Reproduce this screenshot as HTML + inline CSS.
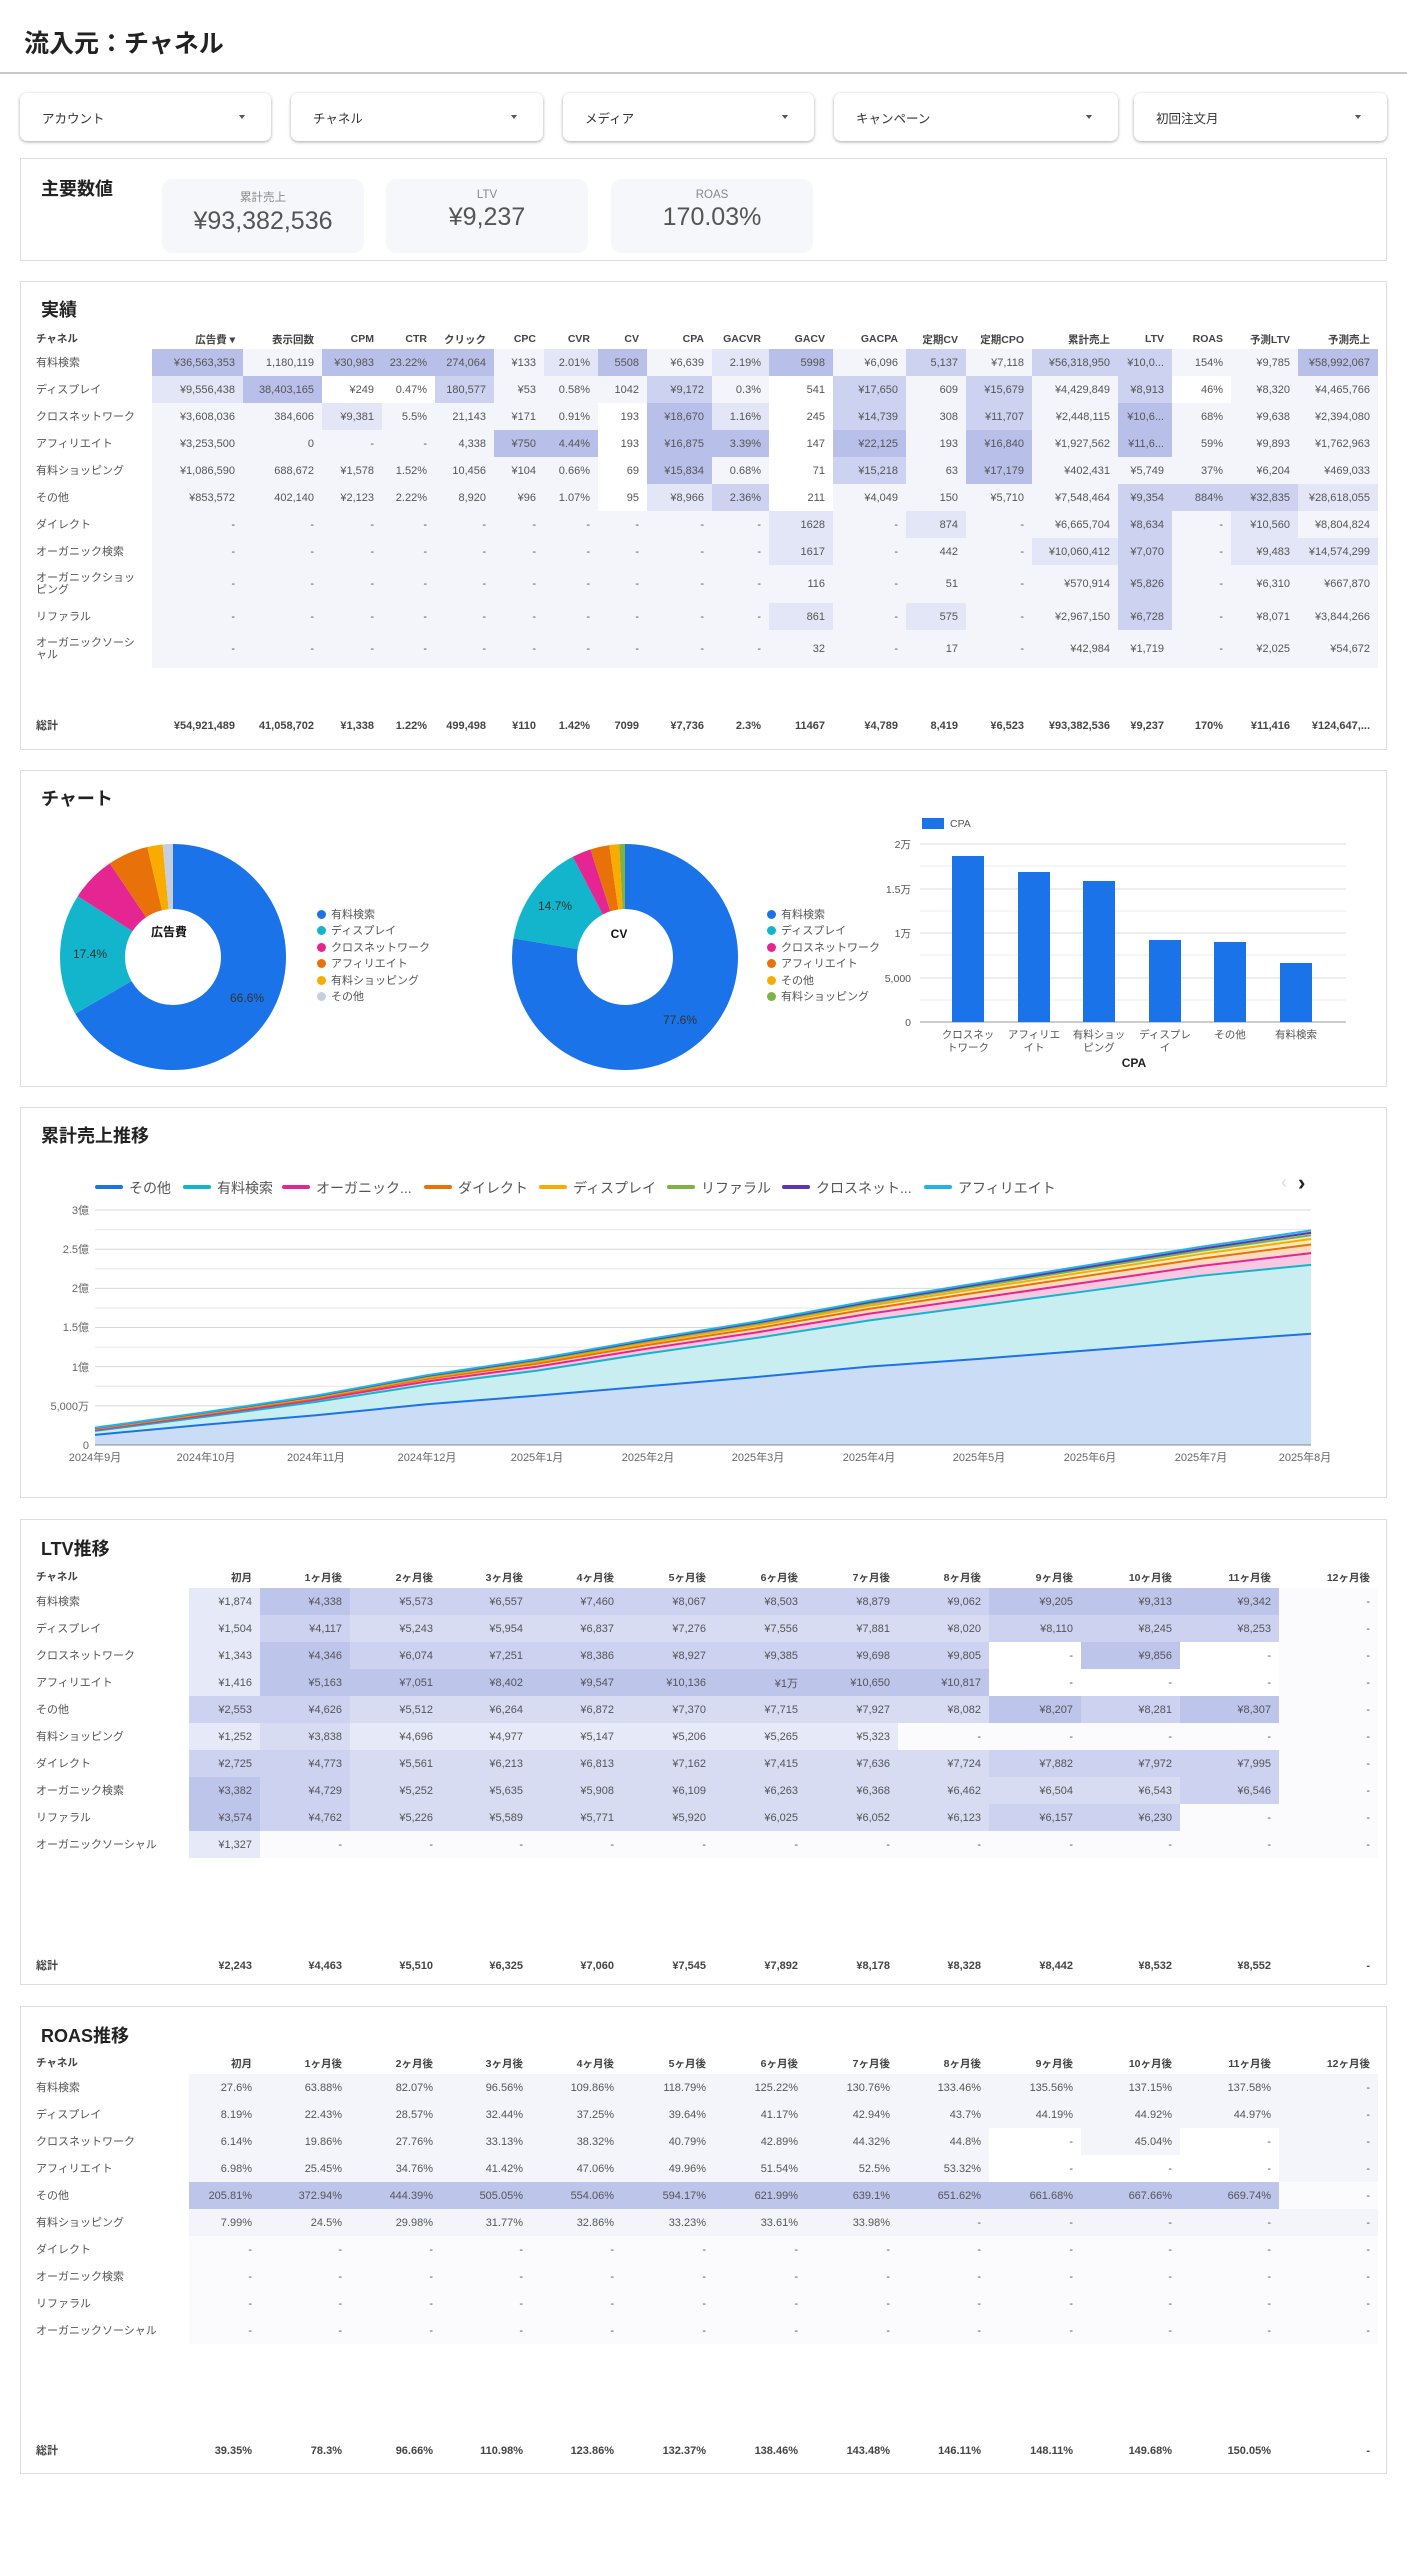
<!DOCTYPE html>
<html><head><meta charset="utf-8">
<style>
*{box-sizing:border-box;margin:0;padding:0}
body{width:1407px;height:2560px;background:#fff;position:relative;font-family:"Liberation Sans","Noto Sans CJK JP",sans-serif;color:#444;overflow:hidden}
.abs{position:absolute}
.title{left:24px;top:24px;font-size:25px;font-weight:bold;color:#222}
.hline{left:0;top:72px;width:1407px;height:2px;background:#c8c8c8}
.filt{position:absolute;top:93px;height:48px;background:#fff;border-radius:7px;box-shadow:0 1px 3px rgba(0,0,0,.35);font-size:12.5px;color:#333;padding:15px 0 0 22px}
.filt:after{content:"";position:absolute;right:26px;top:22px;border-left:3px solid transparent;border-right:3px solid transparent;border-top:4px solid #555}
.panel{position:absolute;left:20px;width:1367px;border:1px solid #ddd;background:#fff}
.h{position:absolute;font-size:18px;font-weight:bold;color:#222}
.card{position:absolute;top:179px;height:74px;background:#f6f7fb;border-radius:10px;text-align:center;color:#666}
.card .l{font-size:11.5px;color:#888;margin-top:10px}
.card .v{font-size:25px;color:#555;margin-top:2px}
table{position:absolute;border-collapse:collapse;table-layout:fixed;font-size:11px;color:#555}
td,th{text-align:right;padding:0 8px 0 0;white-space:nowrap;overflow:hidden}
th{font-weight:bold;color:#444;font-size:10.5px}
td.n,th.n{text-align:left;padding-left:4px;color:#555;white-space:normal;line-height:12px}
th.n{color:#444}
tr.tot td{font-weight:bold;color:#444}
.a0{background:#fff}.a1{background:#f4f5fb}.a2{background:#e3e6f6}.a3{background:#ccd2f0}.a4{background:#b8c0e9}
.b1{background:#e6e9f7}.b2{background:#d8dcf3}.b3{background:#ccd2f0}.b4{background:#bec5eb}.bw{background:#fbfbfe}
.leg{position:absolute;font-size:11px;color:#555}
.leg i{display:inline-block;width:9px;height:9px;border-radius:50%;margin-right:5px;vertical-align:-1px}
.ll{position:absolute;top:1178px;font-size:14px;color:#555;white-space:nowrap}
.ll b{display:inline-block;width:28px;height:4px;border-radius:2px;vertical-align:4px;margin-right:6px}
</style></head><body>
<div class="abs title">流入元：チャネル</div>
<div class="abs hline"></div>
<div class="filt" style="left:20px;width:251px">アカウント</div>
<div class="filt" style="left:291px;width:252px">チャネル</div>
<div class="filt" style="left:563px;width:251px">メディア</div>
<div class="filt" style="left:834px;width:284px">キャンペーン</div>
<div class="filt" style="left:1134px;width:253px">初回注文月</div>

<div class="panel" style="top:158px;height:103px"></div>
<div class="h" style="left:41px;top:175px">主要数値</div>
<div class="card" style="left:162px;width:202px"><div class="l">累計売上</div><div class="v">¥93,382,536</div></div>
<div class="card" style="left:386px;width:202px"><div class="l">LTV</div><div class="v">¥9,237</div></div>
<div class="card" style="left:611px;width:202px"><div class="l">ROAS</div><div class="v">170.03%</div></div>

<div class="panel" style="top:281px;height:469px"></div>
<div class="h" style="left:41px;top:296px">実績</div>
<table style="left:32px;top:329px;width:1346px">
<colgroup><col style="width:120px"><col style="width:91px"><col style="width:79px"><col style="width:60px"><col style="width:53px"><col style="width:59px"><col style="width:50px"><col style="width:54px"><col style="width:49px"><col style="width:65px"><col style="width:57px"><col style="width:64px"><col style="width:73px"><col style="width:60px"><col style="width:66px"><col style="width:86px"><col style="width:54px"><col style="width:59px"><col style="width:67px"><col style="width:80px"></colgroup>
<tr style="height:20px"><th class="n">チャネル</th><th>広告費 ▾</th><th>表示回数</th><th>CPM</th><th>CTR</th><th>クリック</th><th>CPC</th><th>CVR</th><th>CV</th><th>CPA</th><th>GACVR</th><th>GACV</th><th>GACPA</th><th>定期CV</th><th>定期CPO</th><th>累計売上</th><th>LTV</th><th>ROAS</th><th>予測LTV</th><th>予測売上</th></tr>
<tr style="height:27px"><td class="n">有料検索</td><td class="a4">¥36,563,353</td><td class="a1">1,180,119</td><td class="a4">¥30,983</td><td class="a4">23.22%</td><td class="a4">274,064</td><td class="a1">¥133</td><td class="a2">2.01%</td><td class="a4">5508</td><td class="a1">¥6,639</td><td class="a2">2.19%</td><td class="a4">5998</td><td class="a1">¥6,096</td><td class="a3">5,137</td><td class="a1">¥7,118</td><td class="a3">¥56,318,950</td><td class="a3">¥10,0...</td><td class="a1">154%</td><td class="a1">¥9,785</td><td class="a4">¥58,992,067</td></tr>
<tr style="height:27px"><td class="n">ディスプレイ</td><td class="a2">¥9,556,438</td><td class="a4">38,403,165</td><td class="a0">¥249</td><td class="a0">0.47%</td><td class="a3">180,577</td><td class="a1">¥53</td><td class="a1">0.58%</td><td class="a1">1042</td><td class="a3">¥9,172</td><td class="a1">0.3%</td><td class="a0">541</td><td class="a3">¥17,650</td><td class="a1">609</td><td class="a3">¥15,679</td><td class="a1">¥4,429,849</td><td class="a3">¥8,913</td><td class="a0">46%</td><td class="a1">¥8,320</td><td class="a1">¥4,465,766</td></tr>
<tr style="height:27px"><td class="n">クロスネットワーク</td><td class="a1">¥3,608,036</td><td class="a1">384,606</td><td class="a2">¥9,381</td><td class="a1">5.5%</td><td class="a1">21,143</td><td class="a1">¥171</td><td class="a1">0.91%</td><td class="a0">193</td><td class="a4">¥18,670</td><td class="a2">1.16%</td><td class="a0">245</td><td class="a3">¥14,739</td><td class="a1">308</td><td class="a3">¥11,707</td><td class="a1">¥2,448,115</td><td class="a4">¥10,6...</td><td class="a1">68%</td><td class="a1">¥9,638</td><td class="a1">¥2,394,080</td></tr>
<tr style="height:27px"><td class="n">アフィリエイト</td><td class="a1">¥3,253,500</td><td class="a1">0</td><td class="a1">-</td><td class="a1">-</td><td class="a1">4,338</td><td class="a4">¥750</td><td class="a4">4.44%</td><td class="a0">193</td><td class="a4">¥16,875</td><td class="a4">3.39%</td><td class="a0">147</td><td class="a4">¥22,125</td><td class="a1">193</td><td class="a4">¥16,840</td><td class="a1">¥1,927,562</td><td class="a4">¥11,6...</td><td class="a1">59%</td><td class="a1">¥9,893</td><td class="a1">¥1,762,963</td></tr>
<tr style="height:27px"><td class="n">有料ショッピング</td><td class="a1">¥1,086,590</td><td class="a1">688,672</td><td class="a1">¥1,578</td><td class="a1">1.52%</td><td class="a1">10,456</td><td class="a1">¥104</td><td class="a1">0.66%</td><td class="a0">69</td><td class="a4">¥15,834</td><td class="a1">0.68%</td><td class="a0">71</td><td class="a3">¥15,218</td><td class="a1">63</td><td class="a4">¥17,179</td><td class="a1">¥402,431</td><td class="a1">¥5,749</td><td class="a1">37%</td><td class="a1">¥6,204</td><td class="a1">¥469,033</td></tr>
<tr style="height:27px"><td class="n">その他</td><td class="a1">¥853,572</td><td class="a1">402,140</td><td class="a1">¥2,123</td><td class="a1">2.22%</td><td class="a1">8,920</td><td class="a1">¥96</td><td class="a1">1.07%</td><td class="a0">95</td><td class="a2">¥8,966</td><td class="a3">2.36%</td><td class="a0">211</td><td class="a1">¥4,049</td><td class="a1">150</td><td class="a1">¥5,710</td><td class="a1">¥7,548,464</td><td class="a3">¥9,354</td><td class="a3">884%</td><td class="a3">¥32,835</td><td class="a2">¥28,618,055</td></tr>
<tr style="height:27px"><td class="n">ダイレクト</td><td class="a1">-</td><td class="a1">-</td><td class="a1">-</td><td class="a1">-</td><td class="a1">-</td><td class="a1">-</td><td class="a1">-</td><td class="a1">-</td><td class="a1">-</td><td class="a1">-</td><td class="a2">1628</td><td class="a1">-</td><td class="a2">874</td><td class="a1">-</td><td class="a1">¥6,665,704</td><td class="a3">¥8,634</td><td class="a1">-</td><td class="a2">¥10,560</td><td class="a1">¥8,804,824</td></tr>
<tr style="height:27px"><td class="n">オーガニック検索</td><td class="a1">-</td><td class="a1">-</td><td class="a1">-</td><td class="a1">-</td><td class="a1">-</td><td class="a1">-</td><td class="a1">-</td><td class="a1">-</td><td class="a1">-</td><td class="a1">-</td><td class="a2">1617</td><td class="a1">-</td><td class="a1">442</td><td class="a1">-</td><td class="a2">¥10,060,412</td><td class="a3">¥7,070</td><td class="a1">-</td><td class="a2">¥9,483</td><td class="a2">¥14,574,299</td></tr>
<tr style="height:38px"><td class="n">オーガニックショッピング</td><td class="a1">-</td><td class="a1">-</td><td class="a1">-</td><td class="a1">-</td><td class="a1">-</td><td class="a1">-</td><td class="a1">-</td><td class="a1">-</td><td class="a1">-</td><td class="a1">-</td><td class="a1">116</td><td class="a1">-</td><td class="a1">51</td><td class="a1">-</td><td class="a1">¥570,914</td><td class="a3">¥5,826</td><td class="a1">-</td><td class="a1">¥6,310</td><td class="a1">¥667,870</td></tr>
<tr style="height:27px"><td class="n">リファラル</td><td class="a1">-</td><td class="a1">-</td><td class="a1">-</td><td class="a1">-</td><td class="a1">-</td><td class="a1">-</td><td class="a1">-</td><td class="a1">-</td><td class="a1">-</td><td class="a1">-</td><td class="a2">861</td><td class="a1">-</td><td class="a2">575</td><td class="a1">-</td><td class="a1">¥2,967,150</td><td class="a3">¥6,728</td><td class="a1">-</td><td class="a1">¥8,071</td><td class="a1">¥3,844,266</td></tr>
<tr style="height:38px"><td class="n">オーガニックソーシャル</td><td class="a1">-</td><td class="a1">-</td><td class="a1">-</td><td class="a1">-</td><td class="a1">-</td><td class="a1">-</td><td class="a1">-</td><td class="a1">-</td><td class="a1">-</td><td class="a1">-</td><td class="a1">32</td><td class="a1">-</td><td class="a1">17</td><td class="a1">-</td><td class="a1">¥42,984</td><td class="a1">¥1,719</td><td class="a1">-</td><td class="a1">¥2,025</td><td class="a1">¥54,672</td></tr>
<tr style="height:45px"><td colspan="20"></td></tr>
<tr class="tot" style="height:26px"><td class="n" style="font-weight:bold">総計</td><td>¥54,921,489</td><td>41,058,702</td><td>¥1,338</td><td>1.22%</td><td>499,498</td><td>¥110</td><td>1.42%</td><td>7099</td><td>¥7,736</td><td>2.3%</td><td>11467</td><td>¥4,789</td><td>8,419</td><td>¥6,523</td><td>¥93,382,536</td><td>¥9,237</td><td>170%</td><td>¥11,416</td><td>¥124,647,...</td></tr>
</table>

<div class="panel" style="top:770px;height:317px"></div>
<div class="h" style="left:41px;top:785px">チャート</div>
<div class="leg" style="left:317px;top:907px;line-height:16.4px">
<div><i style="background:#1a73e8"></i>有料検索</div><div><i style="background:#12b5cb"></i>ディスプレイ</div><div><i style="background:#e52592"></i>クロスネットワーク</div><div><i style="background:#e8710a"></i>アフィリエイト</div><div><i style="background:#f9ab00"></i>有料ショッピング</div><div><i style="background:#c6cfe0"></i>その他</div></div>
<div class="leg" style="left:767px;top:907px;line-height:16.4px">
<div><i style="background:#1a73e8"></i>有料検索</div><div><i style="background:#12b5cb"></i>ディスプレイ</div><div><i style="background:#e52592"></i>クロスネットワーク</div><div><i style="background:#e8710a"></i>アフィリエイト</div><div><i style="background:#f9ab00"></i>その他</div><div><i style="background:#7cb342"></i>有料ショッピング</div></div>

<div class="panel" style="top:1107px;height:391px"></div>
<div class="h" style="left:41px;top:1122px">累計売上推移</div>
<div class="ll" style="left:95px"><b style="background:#1a73e8"></b>その他</div>
<div class="ll" style="left:183px"><b style="background:#12b5cb"></b>有料検索</div>
<div class="ll" style="left:282px"><b style="background:#e52592"></b>オーガニック...</div>
<div class="ll" style="left:424px"><b style="background:#e8710a"></b>ダイレクト</div>
<div class="ll" style="left:539px"><b style="background:#f9ab00"></b>ディスプレイ</div>
<div class="ll" style="left:667px"><b style="background:#7cb342"></b>リファラル</div>
<div class="ll" style="left:782px"><b style="background:#5e35b1"></b>クロスネット...</div>
<div class="ll" style="left:924px"><b style="background:#24b3e6"></b>アフィリエイト</div>
<div class="abs" style="left:1281px;top:1172px;font-size:18px;color:#ddd">‹</div>
<div class="abs" style="left:1298px;top:1170px;font-size:22px;color:#222;font-weight:bold">›</div>

<svg class="abs" style="left:0;top:0" width="1407" height="2560" font-family="Liberation Sans, Noto Sans CJK JP, sans-serif">
<g fill="none" stroke-width="65">
<g transform="rotate(-90 173 957)">
<circle cx="173" cy="957" r="80.5" stroke="#1a73e8" stroke-dasharray="336.9 600"/>
<circle cx="173" cy="957" r="80.5" stroke="#12b5cb" stroke-dasharray="88 600" stroke-dashoffset="-336.9"/>
<circle cx="173" cy="957" r="80.5" stroke="#e52592" stroke-dasharray="32.9 600" stroke-dashoffset="-424.9"/>
<circle cx="173" cy="957" r="80.5" stroke="#e8710a" stroke-dasharray="29.3 600" stroke-dashoffset="-457.8"/>
<circle cx="173" cy="957" r="80.5" stroke="#f9ab00" stroke-dasharray="11.1 600" stroke-dashoffset="-487.1"/>
<circle cx="173" cy="957" r="80.5" stroke="#c6cfe0" stroke-dasharray="7.6 600" stroke-dashoffset="-498.2"/>
</g>
<g transform="rotate(-90 625 957)">
<circle cx="625" cy="957" r="80.5" stroke="#1a73e8" stroke-dasharray="392.5 600"/>
<circle cx="625" cy="957" r="80.5" stroke="#12b5cb" stroke-dasharray="74.4 600" stroke-dashoffset="-392.5"/>
<circle cx="625" cy="957" r="80.5" stroke="#e52592" stroke-dasharray="13.7 600" stroke-dashoffset="-466.9"/>
<circle cx="625" cy="957" r="80.5" stroke="#e8710a" stroke-dasharray="13.7 600" stroke-dashoffset="-480.6"/>
<circle cx="625" cy="957" r="80.5" stroke="#f9ab00" stroke-dasharray="7.1 600" stroke-dashoffset="-494.3"/>
<circle cx="625" cy="957" r="80.5" stroke="#7cb342" stroke-dasharray="4.6 600" stroke-dashoffset="-501.4"/>
</g></g>
<g font-size="12" fill="#333">
<text x="247" y="1002" text-anchor="middle">66.6%</text>
<text x="90" y="958" text-anchor="middle">17.4%</text>
<text x="169" y="936" text-anchor="middle" font-weight="bold" fill="#111">広告費</text>
<text x="680" y="1024" text-anchor="middle">77.6%</text>
<text x="555" y="910" text-anchor="middle">14.7%</text>
<text x="619" y="938" text-anchor="middle" font-weight="bold" fill="#111">CV</text>
</g>
<rect x="922" y="818" width="22" height="11" fill="#1a73e8"/>
<text x="950" y="827" font-size="10.5" fill="#555">CPA</text>
<g stroke="#ececec"><line x1="920" y1="866" x2="1346" y2="866"/><line x1="920" y1="911" x2="1346" y2="911"/><line x1="920" y1="955" x2="1346" y2="955"/><line x1="920" y1="1000" x2="1346" y2="1000"/></g>
<g stroke="#dcdcdc"><line x1="920" y1="844" x2="1346" y2="844"/><line x1="920" y1="889" x2="1346" y2="889"/><line x1="920" y1="933" x2="1346" y2="933"/><line x1="920" y1="978" x2="1346" y2="978"/></g>
<line x1="920" y1="1022" x2="1346" y2="1022" stroke="#999"/>
<g font-size="10.5" fill="#555" text-anchor="end"><text x="911" y="848">2万</text><text x="911" y="893">1.5万</text><text x="911" y="937">1万</text><text x="911" y="982">5,000</text><text x="911" y="1026">0</text></g>
<g fill="#1a73e8"><rect x="952" y="856" width="32" height="166"/><rect x="1018" y="872" width="32" height="150"/><rect x="1083" y="881" width="32" height="141"/><rect x="1149" y="940" width="32" height="82"/><rect x="1214" y="942" width="32" height="80"/><rect x="1280" y="963" width="32" height="59"/></g>
<g font-size="10.5" fill="#555" text-anchor="middle">
<text x="968" y="1038">クロスネッ</text><text x="968" y="1051">トワーク</text>
<text x="1034" y="1038">アフィリエ</text><text x="1034" y="1051">イト</text>
<text x="1099" y="1038">有料ショッ</text><text x="1099" y="1051">ピング</text>
<text x="1165" y="1038">ディスプレ</text><text x="1165" y="1051">イ</text>
<text x="1230" y="1038">その他</text><text x="1296" y="1038">有料検索</text>
<text x="1134" y="1067" font-weight="bold" fill="#222" font-size="12">CPA</text></g>

<g id="grid" stroke="#e6e6e6"></g>
<g id="areas"></g>
<line x1="95" y1="1445" x2="1311" y2="1445" stroke="#888"/>
<g font-size="11" fill="#666" text-anchor="end">
<text x="89" y="1214">3億</text><text x="89" y="1253">2.5億</text><text x="89" y="1292">2億</text><text x="89" y="1331">1.5億</text><text x="89" y="1371">1億</text><text x="89" y="1410">5,000万</text><text x="89" y="1449">0</text></g>
<g font-size="11" fill="#666" text-anchor="middle">
<text x="95" y="1461">2024年9月</text><text x="206" y="1461">2024年10月</text><text x="316" y="1461">2024年11月</text><text x="427" y="1461">2024年12月</text><text x="537" y="1461">2025年1月</text><text x="648" y="1461">2025年2月</text><text x="758" y="1461">2025年3月</text><text x="869" y="1461">2025年4月</text><text x="979" y="1461">2025年5月</text><text x="1090" y="1461">2025年6月</text><text x="1201" y="1461">2025年7月</text><text x="1305" y="1461">2025年8月</text></g>
</svg>

<div class="panel" style="top:1519px;height:466px"></div>
<div class="h" style="left:41px;top:1535px">LTV推移</div>
<table style="left:32px;top:1566px;width:1346px">
<colgroup><col style="width:157px"><col style="width:71px"><col style="width:90px"><col style="width:91px"><col style="width:90px"><col style="width:91px"><col style="width:92px"><col style="width:92px"><col style="width:92px"><col style="width:91px"><col style="width:92px"><col style="width:99px"><col style="width:99px"><col style="width:99px"></colgroup>
<tr style="height:22px"><th class="n">チャネル</th><th>初月</th><th>1ヶ月後</th><th>2ヶ月後</th><th>3ヶ月後</th><th>4ヶ月後</th><th>5ヶ月後</th><th>6ヶ月後</th><th>7ヶ月後</th><th>8ヶ月後</th><th>9ヶ月後</th><th>10ヶ月後</th><th>11ヶ月後</th><th>12ヶ月後</th></tr>
<tr style="height:27px"><td class="n">有料検索</td><td class="b1">¥1,874</td><td class="b4">¥4,338</td><td class="b3">¥5,573</td><td class="b3">¥6,557</td><td class="b3">¥7,460</td><td class="b3">¥8,067</td><td class="b3">¥8,503</td><td class="b3">¥8,879</td><td class="b3">¥9,062</td><td class="b4">¥9,205</td><td class="b4">¥9,313</td><td class="b4">¥9,342</td><td class="bw">-</td></tr>
<tr style="height:27px"><td class="n">ディスプレイ</td><td class="b1">¥1,504</td><td class="b3">¥4,117</td><td class="b2">¥5,243</td><td class="b2">¥5,954</td><td class="b2">¥6,837</td><td class="b2">¥7,276</td><td class="b2">¥7,556</td><td class="b2">¥7,881</td><td class="b2">¥8,020</td><td class="b3">¥8,110</td><td class="b3">¥8,245</td><td class="b3">¥8,253</td><td class="bw">-</td></tr>
<tr style="height:27px"><td class="n">クロスネットワーク</td><td class="b1">¥1,343</td><td class="b4">¥4,346</td><td class="b3">¥6,074</td><td class="b3">¥7,251</td><td class="b3">¥8,386</td><td class="b3">¥8,927</td><td class="b3">¥9,385</td><td class="b3">¥9,698</td><td class="b3">¥9,805</td><td class="a0">-</td><td class="b4">¥9,856</td><td class="a0">-</td><td class="bw">-</td></tr>
<tr style="height:27px"><td class="n">アフィリエイト</td><td class="b1">¥1,416</td><td class="b4">¥5,163</td><td class="b4">¥7,051</td><td class="b4">¥8,402</td><td class="b4">¥9,547</td><td class="b4">¥10,136</td><td class="b4">¥1万</td><td class="b4">¥10,650</td><td class="b4">¥10,817</td><td class="a0">-</td><td class="a0">-</td><td class="a0">-</td><td class="bw">-</td></tr>
<tr style="height:27px"><td class="n">その他</td><td class="b3">¥2,553</td><td class="b3">¥4,626</td><td class="b2">¥5,512</td><td class="b2">¥6,264</td><td class="b2">¥6,872</td><td class="b2">¥7,370</td><td class="b2">¥7,715</td><td class="b2">¥7,927</td><td class="b2">¥8,082</td><td class="b4">¥8,207</td><td class="b3">¥8,281</td><td class="b4">¥8,307</td><td class="bw">-</td></tr>
<tr style="height:27px"><td class="n">有料ショッピング</td><td class="b1">¥1,252</td><td class="b2">¥3,838</td><td class="b1">¥4,696</td><td class="b1">¥4,977</td><td class="b1">¥5,147</td><td class="b1">¥5,206</td><td class="b1">¥5,265</td><td class="b1">¥5,323</td><td class="bw">-</td><td class="bw">-</td><td class="bw">-</td><td class="bw">-</td><td class="bw">-</td></tr>
<tr style="height:27px"><td class="n">ダイレクト</td><td class="b3">¥2,725</td><td class="b3">¥4,773</td><td class="b2">¥5,561</td><td class="b2">¥6,213</td><td class="b2">¥6,813</td><td class="b2">¥7,162</td><td class="b2">¥7,415</td><td class="b2">¥7,636</td><td class="b2">¥7,724</td><td class="b3">¥7,882</td><td class="b3">¥7,972</td><td class="b3">¥7,995</td><td class="bw">-</td></tr>
<tr style="height:27px"><td class="n">オーガニック検索</td><td class="b4">¥3,382</td><td class="b3">¥4,729</td><td class="b2">¥5,252</td><td class="b2">¥5,635</td><td class="b2">¥5,908</td><td class="b2">¥6,109</td><td class="b2">¥6,263</td><td class="b2">¥6,368</td><td class="b2">¥6,462</td><td class="b2">¥6,504</td><td class="b2">¥6,543</td><td class="b3">¥6,546</td><td class="bw">-</td></tr>
<tr style="height:27px"><td class="n">リファラル</td><td class="b4">¥3,574</td><td class="b3">¥4,762</td><td class="b2">¥5,226</td><td class="b2">¥5,589</td><td class="b2">¥5,771</td><td class="b2">¥5,920</td><td class="b2">¥6,025</td><td class="b2">¥6,052</td><td class="b2">¥6,123</td><td class="b3">¥6,157</td><td class="b3">¥6,230</td><td class="bw">-</td><td class="bw">-</td></tr>
<tr style="height:27px"><td class="n">オーガニックソーシャル</td><td class="b1">¥1,327</td><td class="bw">-</td><td class="bw">-</td><td class="bw">-</td><td class="bw">-</td><td class="bw">-</td><td class="bw">-</td><td class="bw">-</td><td class="bw">-</td><td class="bw">-</td><td class="bw">-</td><td class="bw">-</td><td class="bw">-</td></tr>
<tr style="height:95px"><td colspan="14"></td></tr>
<tr class="tot" style="height:26px"><td class="n" style="font-weight:bold">総計</td><td>¥2,243</td><td>¥4,463</td><td>¥5,510</td><td>¥6,325</td><td>¥7,060</td><td>¥7,545</td><td>¥7,892</td><td>¥8,178</td><td>¥8,328</td><td>¥8,442</td><td>¥8,532</td><td>¥8,552</td><td>-</td></tr>
</table>

<div class="panel" style="top:2006px;height:468px"></div>
<div class="h" style="left:41px;top:2022px">ROAS推移</div>
<table style="left:32px;top:2052px;width:1346px">
<colgroup><col style="width:157px"><col style="width:71px"><col style="width:90px"><col style="width:91px"><col style="width:90px"><col style="width:91px"><col style="width:92px"><col style="width:92px"><col style="width:92px"><col style="width:91px"><col style="width:92px"><col style="width:99px"><col style="width:99px"><col style="width:99px"></colgroup>
<tr style="height:22px"><th class="n">チャネル</th><th>初月</th><th>1ヶ月後</th><th>2ヶ月後</th><th>3ヶ月後</th><th>4ヶ月後</th><th>5ヶ月後</th><th>6ヶ月後</th><th>7ヶ月後</th><th>8ヶ月後</th><th>9ヶ月後</th><th>10ヶ月後</th><th>11ヶ月後</th><th>12ヶ月後</th></tr>
<tr style="height:27px" class="a1"><td class="n" style="background:#fff">有料検索</td><td>27.6%</td><td>63.88%</td><td>82.07%</td><td>96.56%</td><td>109.86%</td><td>118.79%</td><td>125.22%</td><td>130.76%</td><td>133.46%</td><td>135.56%</td><td>137.15%</td><td>137.58%</td><td>-</td></tr>
<tr style="height:27px" class="a1"><td class="n" style="background:#fff">ディスプレイ</td><td>8.19%</td><td>22.43%</td><td>28.57%</td><td>32.44%</td><td>37.25%</td><td>39.64%</td><td>41.17%</td><td>42.94%</td><td>43.7%</td><td>44.19%</td><td>44.92%</td><td>44.97%</td><td>-</td></tr>
<tr style="height:27px" class="a1"><td class="n" style="background:#fff">クロスネットワーク</td><td>6.14%</td><td>19.86%</td><td>27.76%</td><td>33.13%</td><td>38.32%</td><td>40.79%</td><td>42.89%</td><td>44.32%</td><td>44.8%</td><td class="a0">-</td><td>45.04%</td><td class="a0">-</td><td>-</td></tr>
<tr style="height:27px" class="a1"><td class="n" style="background:#fff">アフィリエイト</td><td>6.98%</td><td>25.45%</td><td>34.76%</td><td>41.42%</td><td>47.06%</td><td>49.96%</td><td>51.54%</td><td>52.5%</td><td>53.32%</td><td class="a0">-</td><td class="a0">-</td><td class="a0">-</td><td>-</td></tr>
<tr style="height:27px" class="b4"><td class="n" style="background:#fff">その他</td><td>205.81%</td><td>372.94%</td><td>444.39%</td><td>505.05%</td><td>554.06%</td><td>594.17%</td><td>621.99%</td><td>639.1%</td><td>651.62%</td><td>661.68%</td><td>667.66%</td><td>669.74%</td><td class="bw">-</td></tr>
<tr style="height:27px" class="a1"><td class="n" style="background:#fff">有料ショッピング</td><td>7.99%</td><td>24.5%</td><td>29.98%</td><td>31.77%</td><td>32.86%</td><td>33.23%</td><td>33.61%</td><td>33.98%</td><td>-</td><td>-</td><td>-</td><td>-</td><td>-</td></tr>
<tr style="height:27px" class="bw"><td class="n" style="background:#fff">ダイレクト</td><td>-</td><td>-</td><td>-</td><td>-</td><td>-</td><td>-</td><td>-</td><td>-</td><td>-</td><td>-</td><td>-</td><td>-</td><td>-</td></tr>
<tr style="height:27px" class="bw"><td class="n" style="background:#fff">オーガニック検索</td><td>-</td><td>-</td><td>-</td><td>-</td><td>-</td><td>-</td><td>-</td><td>-</td><td>-</td><td>-</td><td>-</td><td>-</td><td>-</td></tr>
<tr style="height:27px" class="bw"><td class="n" style="background:#fff">リファラル</td><td>-</td><td>-</td><td>-</td><td>-</td><td>-</td><td>-</td><td>-</td><td>-</td><td>-</td><td>-</td><td>-</td><td>-</td><td>-</td></tr>
<tr style="height:27px" class="bw"><td class="n" style="background:#fff">オーガニックソーシャル</td><td>-</td><td>-</td><td>-</td><td>-</td><td>-</td><td>-</td><td>-</td><td>-</td><td>-</td><td>-</td><td>-</td><td>-</td><td>-</td></tr>
<tr style="height:94px"><td colspan="14"></td></tr>
<tr class="tot" style="height:26px"><td class="n" style="font-weight:bold">総計</td><td>39.35%</td><td>78.3%</td><td>96.66%</td><td>110.98%</td><td>123.86%</td><td>132.37%</td><td>138.46%</td><td>143.48%</td><td>146.11%</td><td>148.11%</td><td>149.68%</td><td>150.05%</td><td>-</td></tr>
</table>

<script>
(function(){
var NS="http://www.w3.org/2000/svg";
function X(i){return 95+i*110.55}
function Y(v){return 1445-v*78.33}
var g=document.getElementById("grid");
for(var k=1;k<=12;k++){var l=document.createElementNS(NS,"line");var y=1445-k*19.58;l.setAttribute("x1",95);l.setAttribute("x2",1311);l.setAttribute("y1",y);l.setAttribute("y2",y);if(k%2==0)l.setAttribute("stroke","#d8d8d8");g.appendChild(l);}
var S0=[0.13,0.26,0.38,0.52,0.63,0.75,0.87,1.0,1.1,1.21,1.32,1.42];
var S1=[0.18,0.36,0.55,0.77,0.95,1.17,1.37,1.59,1.78,1.97,2.16,2.30];
var T=[0.22,0.42,0.63,0.89,1.1,1.35,1.58,1.84,2.07,2.30,2.53,2.74];
var fr=[0.34,0.59,0.75,0.86,0.93,1.0];
var cols=["#1a73e8","#12b5cb","#e52592","#e8710a","#f9ab00","#7cb342","#5e35b1","#24b3e6"];
var fills=["#cadcf6","#c9eef2","#f8c8e2","#fbdcc2","#fdebbb","#e2efd3","#ddd3ef","#cdeef9"];
var tops=[S0,S1];
fr.forEach(function(f){tops.push(S1.map(function(v,i){return v+(T[i]-v)*f}))});
var a=document.getElementById("areas");
var prev=S0.map(function(){return 0});
tops.forEach(function(t,s){
 var d="M"+X(0)+","+Y(t[0]);
 for(var i=1;i<12;i++)d+="L"+X(i)+","+Y(t[i]);
 var line=d;
 for(var i=11;i>=0;i--)d+="L"+X(i)+","+Y(prev[i]);
 d+="Z";
 var p=document.createElementNS(NS,"path");p.setAttribute("d",d);p.setAttribute("fill",fills[s]);a.appendChild(p);
 prev=t;
});
tops.forEach(function(t,s){
 var d="M"+X(0)+","+Y(t[0]);
 for(var i=1;i<12;i++)d+="L"+X(i)+","+Y(t[i]);
 var p=document.createElementNS(NS,"path");p.setAttribute("d",d);p.setAttribute("fill","none");p.setAttribute("stroke",cols[s]);p.setAttribute("stroke-width","2");a.appendChild(p);
});
})();
</script>
</body></html>
